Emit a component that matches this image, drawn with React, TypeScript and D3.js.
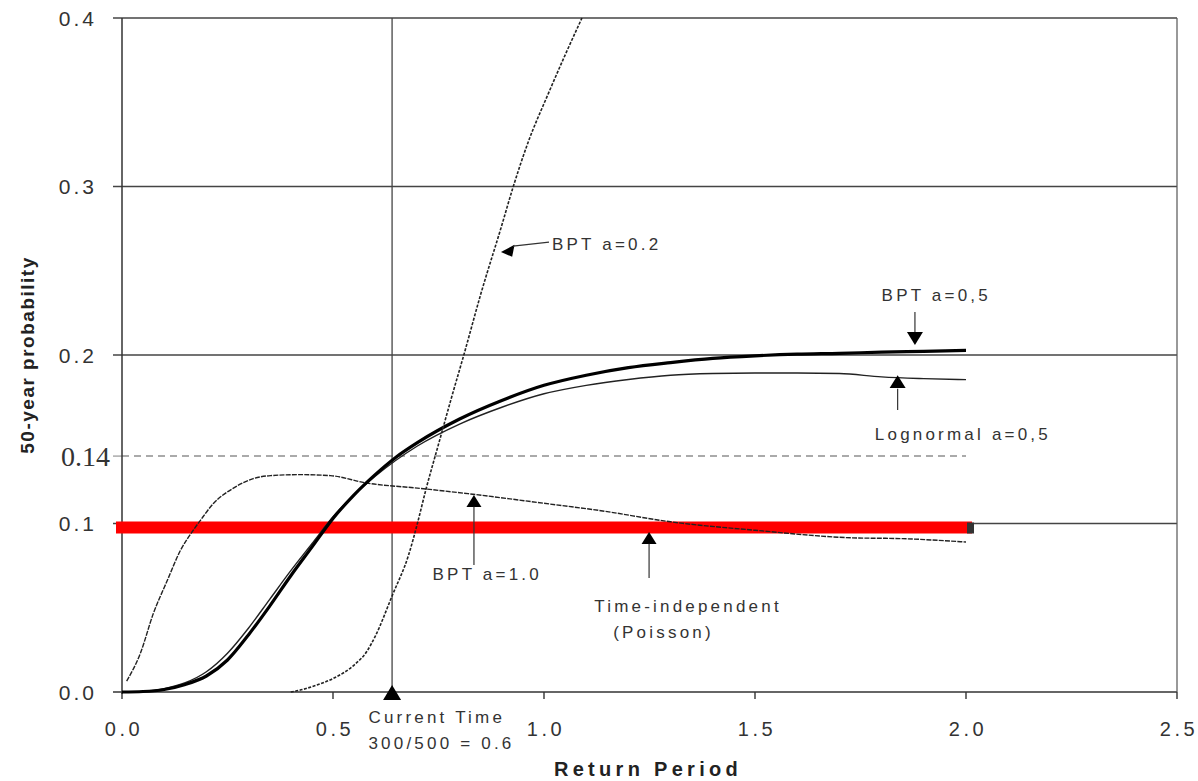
import * as d3 from 'd3';

// axis ticks
const xTicks = [0, 0.5, 1.0, 1.5, 2.0, 2.5];
const yTicks = [0.0, 0.1, 0.2, 0.3, 0.4];
const yTickLabels = ['0.0', '0.1', '0.2', '0.3', '0.4'];
const refLevel = 0.14;
const currentTime = 0.64;

// BPT a=0.2
const bpt02X = [0.40, 0.42, 0.46, 0.50, 0.55, 0.58, 0.60, 0.64, 0.68, 0.70, 0.72, 0.75, 0.78, 0.81, 0.85, 0.90, 0.926, 0.962, 1.01, 1.05, 1.09];
const bpt02Y = [0.0, 0.001, 0.004, 0.008, 0.016, 0.024, 0.033, 0.057, 0.082, 0.100, 0.120, 0.147, 0.174, 0.200, 0.236, 0.277, 0.299, 0.326, 0.355, 0.378, 0.400];

// BPT a=0.5
const bpt05X = [0, 0.05, 0.1, 0.15, 0.2, 0.25, 0.3, 0.35, 0.4, 0.45, 0.5, 0.55, 0.6, 0.65, 0.7, 0.8, 0.9, 1.0, 1.1, 1.2, 1.3, 1.4, 1.5, 1.6, 1.7, 1.8, 1.9, 2.0];
const bpt05Y = [0, 0.0003, 0.0015, 0.0045, 0.0095, 0.019, 0.034, 0.051, 0.069, 0.086, 0.103, 0.117, 0.129, 0.1395, 0.148, 0.162, 0.173, 0.182, 0.188, 0.1925, 0.1955, 0.198, 0.1995, 0.2005, 0.201, 0.2017, 0.2022, 0.2027];

// Lognormal a=0.5
const logX = [0, 0.05, 0.1, 0.15, 0.2, 0.25, 0.3, 0.35, 0.4, 0.45, 0.5, 0.6, 0.7, 0.8, 0.9, 1.0, 1.1, 1.2, 1.3, 1.4, 1.5, 1.6, 1.7, 1.8, 1.9, 2.0];
const logY = [0, 0.0004, 0.002, 0.0055, 0.012, 0.023, 0.038, 0.055, 0.072, 0.088, 0.104, 0.128, 0.146, 0.159, 0.169, 0.177, 0.182, 0.1855, 0.188, 0.189, 0.1893, 0.1893, 0.189, 0.187, 0.186, 0.1854];

// BPT a=1.0
const bpt10X = [0.011, 0.043, 0.074, 0.107, 0.138, 0.168, 0.185, 0.216, 0.264, 0.311, 0.352, 0.42, 0.494, 0.58, 0.7, 0.82, 1.0, 1.135, 1.3, 1.5, 1.73, 1.85, 2.0];
const bpt10Y = [0.0065, 0.0226, 0.0464, 0.066, 0.0838, 0.0957, 0.1016, 0.1117, 0.121, 0.1266, 0.1284, 0.129, 0.1284, 0.124, 0.121, 0.1177, 0.112, 0.1076, 0.101, 0.096, 0.0915, 0.091, 0.089];

// Time-independent (Poisson)
const poissonX = [0, 2.0];
const poissonY = [0.1, 0.1];

const W = 1198;
const H = 781;
const FONT = '"Liberation Sans", Arial, sans-serif';

export default function App() {
  const x = d3.scaleLinear().domain([0, 2.5]).range([122, 1177]);
  const y = d3.scaleLinear().domain([0, 0.4]).range([692, 18]);

  const line = d3
    .line<[number, number]>()
    .x((d) => x(d[0]))
    .y((d) => y(d[1]))
    .curve(d3.curveMonotoneX);

  const zip = (xs: number[], ys: number[]) => xs.map((v, i) => [v, ys[i]] as [number, number]);

  const txt = { fontFamily: FONT, fontSize: 17, letterSpacing: 3.2, fill: '#333' };

  // small filled triangle arrow head; dir: 'up' | 'down' | 'left'
  const head = (tx: number, ty: number, dir: string, s = 8) => {
    let pts: number[][];
    if (dir === 'up') pts = [[tx, ty], [tx - s, ty + s * 1.6], [tx + s, ty + s * 1.6]];
    else if (dir === 'down') pts = [[tx, ty], [tx - s, ty - s * 1.6], [tx + s, ty - s * 1.6]];
    else pts = [[tx, ty], [tx + s * 1.7, ty - s * 0.9], [tx + s * 1.4, ty + s * 0.6]];
    return <polygon points={pts.map((p) => p.join(',')).join(' ')} fill="#000" />;
  };

  const x0 = x(0);
  const x1 = x(2.5);
  const yB = y(0);
  const pEnd = x(poissonX[poissonX.length - 1]);

  return (
    <svg width={W} height={H} style={{ position: 'absolute', left: 0, top: 0, background: '#fff' }}>
      {/* gridlines */}
      {yTicks.slice(1).map((t) => (
        <line key={t} x1={x0 - 9} x2={x1} y1={y(t)} y2={y(t)} stroke="#444" strokeWidth={1.4} />
      ))}
      <line x1={x0} x2={x(2.0)} y1={y(refLevel)} y2={y(refLevel)} stroke="#aaa" strokeWidth={2} strokeDasharray="7,5" />
      <line x1={x0 - 9} x2={x0} y1={y(refLevel)} y2={y(refLevel)} stroke="#aaa" strokeWidth={1.5} />

      {/* frame */}
      <line x1={x0} x2={x0} y1={y(0.4)} y2={yB + 2} stroke="#333" strokeWidth={1.5} />
      <line x1={x0 - 9} x2={x1} y1={yB} y2={yB} stroke="#333" strokeWidth={1.6} />
      <line x1={x1} x2={x1} y1={y(0.4)} y2={yB} stroke="#555" strokeWidth={1.2} />
      {xTicks.map((t) => (
        <line key={t} x1={x(t)} x2={x(t)} y1={yB} y2={yB + 7} stroke="#333" strokeWidth={1.4} />
      ))}

      {/* current time marker */}
      <line x1={x(currentTime)} x2={x(currentTime)} y1={y(0.4)} y2={yB} stroke="#444" strokeWidth={1.3} />
      <polygon
        points={`${x(currentTime)},${yB - 7} ${x(currentTime) - 9},${yB + 8} ${x(currentTime) + 9},${yB + 8}`}
        fill="#000"
      />

      {/* Poisson */}
      <path
        d={line(zip(poissonX, poissonY)) ?? ''}
        transform="translate(0,4)"
        fill="none"
        stroke="#ff0000"
        strokeWidth={12}
        strokeLinecap="square"
      />
      <rect x={pEnd + 1} y={y(0.1) - 1} width={7} height={11} fill="#333" />

      {/* curves */}
      <path d={line(zip(bpt10X, bpt10Y)) ?? ''} fill="none" stroke="#222" strokeWidth={1.4} strokeDasharray="5,1.2" />
      <path d={line(zip(logX, logY)) ?? ''} fill="none" stroke="#222" strokeWidth={1.4} />
      <path d={line(zip(bpt05X, bpt05Y)) ?? ''} fill="none" stroke="#000" strokeWidth={3.2} />
      <path d={line(zip(bpt02X, bpt02Y)) ?? ''} fill="none" stroke="#222" strokeWidth={1.6} strokeDasharray="3,1.5" />

      {/* y tick labels */}
      {yTicks.map((t, i) => (
        <text key={t} x={97} y={y(t)} dy="0.36em" textAnchor="end" fontFamily={FONT} fontSize={21} letterSpacing={3} fill="#333">
          {yTickLabels[i]}
        </text>
      ))}
      <text x={110} y={y(refLevel)} dy="0.36em" textAnchor="end" fontFamily='"Liberation Serif", serif' fontSize={28} fill="#333">
        0.14
      </text>

      {/* x tick labels */}
      {xTicks.map((t) => (
        <text key={t} x={x(t) + 2} y={yB + 44} textAnchor="middle" fontFamily={FONT} fontSize={20} letterSpacing={3.5} fill="#333">
          {t.toFixed(1)}
        </text>
      ))}

      {/* axis titles */}
      <text x={648} y={776} textAnchor="middle" fontFamily={FONT} fontSize={20} fontWeight="bold" letterSpacing={4.3} fill="#222">
        Return Period
      </text>
      <text
        transform={`translate(34,${y(0.2)}) rotate(-90)`}
        textAnchor="middle"
        fontFamily={FONT}
        fontSize={19}
        fontWeight="bold"
        letterSpacing={1.5}
        fill="#222"
      >
        50-year probability
      </text>

      {/* annotations */}
      {head(x(0.898), y(0.2611), 'left', 8)}
      <line x1={x(0.898) + 12} y1={y(0.2611) - 6} x2={x(1.019) - 3} y2={y(0.2611) - 10} stroke="#333" strokeWidth={1.2} />
      <text x={x(1.019)} y={y(0.2623)} style={txt}>BPT a=0.2</text>

      <text x={x(1.80)} y={y(0.232)} style={txt}>BPT a=0,5</text>
      <line x1={x(1.879)} x2={x(1.879)} y1={y(0.2255)} y2={y(0.212)} stroke="#333" strokeWidth={1.2} />
      {head(x(1.879), y(0.206), 'down', 8)}

      {head(x(1.838), y(0.188), 'up', 8)}
      <line x1={x(1.838)} x2={x(1.838)} y1={y(0.18)} y2={y(0.1674)} stroke="#333" strokeWidth={1.2} />
      <text x={x(1.784)} y={y(0.1496)} style={txt}>Lognormal a=0,5</text>

      {head(x(0.834), y(0.1169), 'up', 7.5)}
      <line x1={x(0.834)} x2={x(0.834)} y1={y(0.11)} y2={y(0.0754)} stroke="#333" strokeWidth={1.2} />
      <text x={x(0.736)} y={y(0.0665)} style={txt}>BPT a=1.0</text>

      {head(x(1.249), y(0.095), 'up', 7.5)}
      <line x1={x(1.249)} x2={x(1.249)} y1={y(0.088)} y2={y(0.0677)} stroke="#333" strokeWidth={1.2} />
      <text x={x(1.119)} y={y(0.0475)} style={txt}>Time-independent</text>
      <text x={x(1.164)} y={y(0.032)} style={txt}>(Poisson)</text>

      <text x={x(0.584)} y={yB + 31} style={txt}>Current Time</text>
      <text x={x(0.584)} y={yB + 57} style={txt}>300/500 = 0.6</text>
    </svg>
  );
}
